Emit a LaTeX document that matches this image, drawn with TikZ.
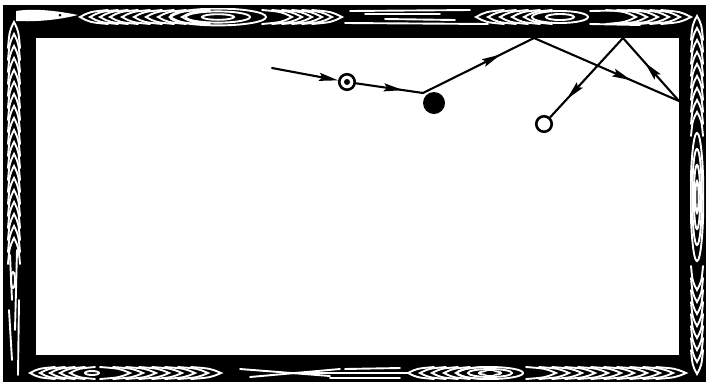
\documentclass[tikz,border=0pt]{standalone}
\usetikzlibrary{arrows.meta,decorations.markings}
\newcommand\wgL[4]{\draw[grain] ({#1+#3},{#2-#4}) .. controls ({#1+0.35*#3},{#2-0.75*#4}) .. (#1,#2) .. controls ({#1+0.35*#3},{#2+0.75*#4}) .. ({#1+#3},{#2+#4});}
\newcommand\wgR[4]{\draw[grain] ({#1-#3},{#2-#4}) .. controls ({#1-0.35*#3},{#2-0.75*#4}) .. (#1,#2) .. controls ({#1-0.35*#3},{#2+0.75*#4}) .. ({#1-#3},{#2+#4});}
\newcommand\wgU[4]{\draw[grain] ({#1-#4},{#2+#3}) .. controls ({#1-0.75*#4},{#2+0.35*#3}) .. (#1,#2) .. controls ({#1+0.75*#4},{#2+0.35*#3}) .. ({#1+#4},{#2+#3});}
\newcommand\wgD[4]{\draw[grain] ({#1-#4},{#2-#3}) .. controls ({#1-0.75*#4},{#2-0.35*#3}) .. (#1,#2) .. controls ({#1+0.75*#4},{#2-0.35*#3}) .. ({#1+#4},{#2-#3});}
\newcommand\wgE[4]{\draw[grain] (#1,#2) ellipse [x radius=#3, y radius=#4];}
\begin{document}
\begin{tikzpicture}[x=1pt,y=-1pt,
  grain/.style={white,line width=1.9pt,line cap=round},
  cueline/.style={black,line width=2.1pt,line cap=round},
  tip/.style={-{Stealth[length=19pt,width=8pt,inset=3pt]}},
  arr/.style={postaction={decorate},decoration={markings,
     mark=at position #1 with {\arrow{Stealth[length=19pt,width=8pt,inset=3pt]}}}},
  ring/.style={circle,draw=black,line width=2.6pt,fill=white,minimum size=15.5pt,inner sep=0pt}]
\useasboundingbox (0,0) rectangle (708,384);
\fill[white] (0,0) rectangle (708,384);
% frame
\fill[black] (3,5) rectangle (706,382);
% top rail grain
\begin{scope}
\clip (5,8) rectangle (704,28);
\fill[white] (16,11) .. controls (35,8) and (58,11) .. (78,15) .. controls (58,20) and (36,22) .. (16,21) -- cycle;
\fill[black] (60,15) circle (1.5);
\foreach \a in {80,90,100,110,122,134,146,158,170,182} {\wgL{\a}{17}{28}{7}}
\foreach \r in {1,2,3} {\wgE{218}{17}{16*\r}{2.8*\r}}
\foreach \a in {292,302,312,322,332,342} {\wgR{\a}{17}{30}{7}}
\draw[grain] (350,11) -- (470,10);
\draw[grain] (345,23) -- (488,24);
\draw[grain] (365,14) -- (440,14);
\draw[grain] (385,19) -- (455,20);
\foreach \a in {476,488,500,512,524} {\wgL{\a}{17}{28}{7}}
\foreach \r in {1,2} {\wgE{560}{17}{14*\r}{3*\r}}
\foreach \a in {636,647,658,669,680,691} {\wgR{\a}{17}{30}{7}}
\draw[grain] (590,11) -- (640,10);
\draw[grain] (590,24) -- (640,25);
\end{scope}
% bottom rail grain
\begin{scope}
\clip (5,366) rectangle (704,381);
\foreach \a in {30,40,50,60,70} {\wgL{\a}{373}{25}{6}}
\wgE{92}{373}{7}{2}
\foreach \a in {130,143,156,169,182,195,208,221} {\wgR{\a}{373}{30}{6}}
\draw[grain] (240,369) -- (330,376);
\draw[grain] (250,377) -- (340,369);
\draw[grain] (300,373) -- (410,373);
\draw[grain] (345,369) -- (400,368);
\draw[grain] (330,378) -- (400,378);
\foreach \a in {408,420,432,444,456} {\wgL{\a}{373}{26}{6}}
\foreach \r in {1,2,3} {\wgE{490}{373}{11*\r}{2*\r}}
\fill[black] (490,373) ellipse [x radius=6, y radius=2];
\foreach \a in {556,569,582,595,608,621,634,647,660,673,686} {\wgR{\a}{373}{30}{6}}
\end{scope}
% left rail grain
\begin{scope}
\clip (5,8) rectangle (23,380);
\foreach \b in {22,34,46,58,70,82,94,106,118,130,142,154,166,178,190,202,214,226,238} {\wgU{14}{\b}{26}{6}}
\draw[grain] (10,255) -- (12,300);
\draw[grain] (17,250) -- (15,330);
\draw[grain] (9,310) -- (12,360);
\draw[grain] (19,300) -- (18,375);
\wgE{13}{280}{2}{8}
\end{scope}
% right rail grain
\begin{scope}
\clip (690,8) rectangle (704,380);
\foreach \r in {1,2,3,4} {\wgE{697}{197}{1.6*\r}{16*\r}}
\foreach \b in {16,28,40,52,64,76,88,100,112} {\wgU{697}{\b}{24}{6}}
\foreach \b in {290,302,314,326,338,350,362,374} {\wgD{697}{\b}{24}{6}}
\end{scope}
% table bed
\fill[white] (36,38) rectangle (679,355);
% balls
\node[ring] (cue) at (347,82) {};
\node[circle,fill=black,minimum size=6pt,inner sep=0pt] (cuedot) at (cue.center) {};
\node[circle,fill=black,minimum size=22pt,inner sep=0pt] (blackball) at (434,103) {};
\node[ring] (whiteball) at (544,124) {};
% path points
\coordinate (start) at (272,68);
\coordinate (kink) at (423,93);
\coordinate (t1) at (534,38);
\coordinate (r1) at (679,101);
\coordinate (t2) at (623,38);
% cue path
\draw[cueline,tip] (start) -- (cue);
\draw[cueline,arr=0.70] (cue) -- (kink);
\draw[cueline,arr=0.70] (kink) -- (t1);
\draw[cueline,arr=0.67] (t1) -- (r1);
\draw[cueline,arr=0.61] (r1) -- (t2);
\draw[cueline,arr=0.77] (t2) -- (whiteball);
\end{tikzpicture}
\end{document}
